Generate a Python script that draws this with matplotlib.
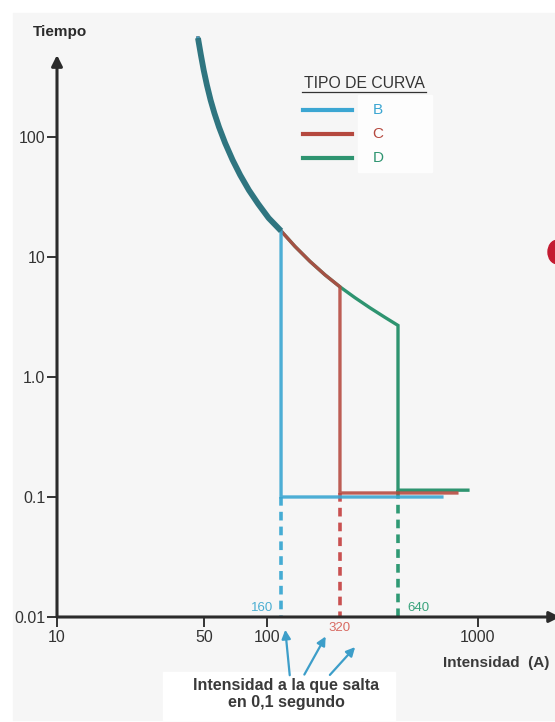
import matplotlib
matplotlib.use("Agg")
import matplotlib.pyplot as plt
from matplotlib.patches import Rectangle, Circle, FancyArrowPatch
from matplotlib.lines import Line2D
from matplotlib.ticker import NullLocator, FixedLocator, FixedFormatter

plt.rcParams['font.family'] = ['Liberation Sans', 'DejaVu Sans']

# upper (thermal) part of the curve, shared by B, C and D
curve_current = [46.75, 48.27, 49.76, 51.54, 53.67, 55.95, 58.84, 62.91, 68.29, 74.19,
                 81.58, 90.32, 101.3, 116, 135.1, 159.2, 187.6, 221, 260.4, 306.9,
                 361.5, 417]
curve_time = [668, 482, 361, 271, 203, 158, 121, 89.1, 64.3, 48.2,
              36.1, 27.7, 21.1, 16.5, 12.25, 9.19, 7.10, 5.64, 4.58, 3.77,
              3.14, 2.69]

curve_names = ['B', 'C', 'D']
trip_current = [116, 221, 417]     # where each curve drops to the magnetic part
trip_time = [0.1, 0.108, 0.114]    # level of the flat tail
tail_end = [674, 794, 896]
trip_labels = ['160', '320', '640']
colors = ['#3ba6d2', '#b5483e', '#2e9470']
dash_colors = ['#45acd4', '#c95050', '#2f9a74']
label_colors = ['#4aaed2', '#d86a62', '#3aa37c']

x_ticks = [10, 50, 100, 1000]
x_tick_labels = ['10', '50', '100', '1000']
y_ticks = [0.01, 0.1, 1, 10, 100]
y_tick_labels = ['0.01', '0.1', '1.0', '10', '100']

W, H = 555, 722


def fx(px):
    return px / W


def fy(py):
    return 1 - py / H


fig = plt.figure(figsize=(W / 100, H / 100), dpi=100)
fig.patch.set_facecolor('white')
# light grey panel behind everything
fig.patches.append(Rectangle((fx(13), fy(720)), fx(555) - fx(13), fy(13) - fy(720),
                             transform=fig.transFigure, color='#f6f6f6', zorder=-5))
fig.patches.append(Rectangle((fx(163), fy(720)), fx(395) - fx(163), fy(672) - fy(720),
                             transform=fig.transFigure, color='#ffffff', zorder=-4))
fig.patches.append(Rectangle((fx(358), fy(172)), fx(432) - fx(358), fy(95) - fy(172),
                             transform=fig.transFigure, color='#fdfdfd', zorder=-4))
# red dot cut by the right edge
fig.patches.append(Circle((fx(557), fy(252)), 9 / W, transform=fig.transFigure,
                          color='#c41a30', zorder=1))

ax = fig.add_axes([fx(57), fy(617), fx(555) - fx(57), fy(30) - fy(617)])
ax.set_facecolor('none')
ax.set_xscale('log')
ax.set_yscale('log')
ax.set_xlim(10, 2323)
ax.set_ylim(0.01, 779)
for s in ax.spines.values():
    s.set_visible(False)

# curves: D underneath, then C, then B
for i in [2, 1, 0]:
    xs = [c for c in curve_current if c <= trip_current[i]]
    ys = curve_time[:len(xs)]
    xs = xs + [trip_current[i], tail_end[i]]
    ys = ys + [trip_time[i], trip_time[i]]
    ax.plot(xs, ys, color=colors[i], lw=2.4, alpha=[0.9, 0.88, 1.0][i],
            solid_joinstyle='miter', zorder=3 + (2 - i))
    # dashed drop to the current axis
    ax.plot([trip_current[i], trip_current[i]], [trip_time[i], 0.01],
            color=dash_colors[i], lw=2.6, dashes=(2.4, 1.7), zorder=2)
    ax.annotate(trip_labels[i], xy=(trip_current[i], 0.01),
                xytext=[(-13.5, 6.5), (0, -8), (15, 6.5)][i], textcoords='offset points',
                ha='center', va='center', fontsize=9.5, color=label_colors[i])

# common part drawn thicker, where the three curves overlap
n_common = len([c for c in curve_current if c <= trip_current[0]])
ax.plot(curve_current[:n_common], curve_time[:n_common], color='#2f7580', lw=4.2,
        solid_capstyle='butt', solid_joinstyle='round', zorder=6)

# axes with arrow heads
ax.annotate('', xy=(10, 482), xytext=(10, 0.01), annotation_clip=False,
            arrowprops=dict(arrowstyle='-|>', lw=2.2, color='#2b2b2b',
                            mutation_scale=16, shrinkA=0, shrinkB=0))
ax.annotate('', xy=(2455, 0.01), xytext=(10, 0.01), annotation_clip=False,
            arrowprops=dict(arrowstyle='-|>', lw=2.2, color='#2b2b2b',
                            mutation_scale=16, shrinkA=0, shrinkB=0))

ax.xaxis.set_major_locator(FixedLocator(x_ticks))
ax.xaxis.set_major_formatter(FixedFormatter(x_tick_labels))
ax.xaxis.set_minor_locator(NullLocator())
ax.yaxis.set_major_locator(FixedLocator(y_ticks))
ax.yaxis.set_major_formatter(FixedFormatter(y_tick_labels))
ax.yaxis.set_minor_locator(NullLocator())
ax.tick_params(axis='x', direction='out', length=7.5, width=1.4, color='#333333',
               pad=2, labelsize=11.5, labelcolor='#333333')
ax.tick_params(axis='y', direction='out', length=7, width=1.4, color='#333333',
               pad=1.5, labelsize=11.5, labelcolor='#333333')

fig.text(fx(33), fy(32), 'Tiempo', fontsize=11, fontweight='bold', color='#2b2b2b',
         ha='left', va='center')
fig.text(fx(443), fy(663), 'Intensidad  (A)', fontsize=11, fontweight='bold',
         color='#3a3a3a', ha='left', va='center')
fig.text(fx(286), fy(694), 'Intensidad a la que salta\nen 0,1 segundo', fontsize=11.5,
         fontweight='bold', color='#3a3a3a', ha='center', va='center', linespacing=1.15)

# arrows pointing at the trip currents
arrow_tails = [(290, 678), (303, 677), (328, 677)]
arrow_tips = [(285, 627), (327, 634), (357, 645)]
for (tx, ty), (hx, hy) in zip(arrow_tails, arrow_tips):
    fig.add_artist(FancyArrowPatch(
        (fx(tx), fy(ty)), (fx(hx), fy(hy)), transform=fig.transFigure,
        arrowstyle='-|>', mutation_scale=13, lw=1.6, color='#3d9ec9'))

# legend
fig.text(fx(364), fy(83), 'TIPO DE CURVA', fontsize=11.3, color='#333333',
         ha='center', va='center')
fig.add_artist(Line2D([fx(302), fx(426)], [fy(92), fy(92)], transform=fig.transFigure,
                      color='#333333', lw=0.9))
for i, name in enumerate(curve_names):
    yy = fy(110 + 24 * i)
    fig.add_artist(Line2D([fx(303), fx(352)], [yy, yy], transform=fig.transFigure,
                          color=colors[i], lw=3))
    fig.text(fx(378), yy, name, fontsize=11, color=colors[i], ha='center', va='center')

fig.savefig('out.png', dpi=100, facecolor=fig.get_facecolor())
